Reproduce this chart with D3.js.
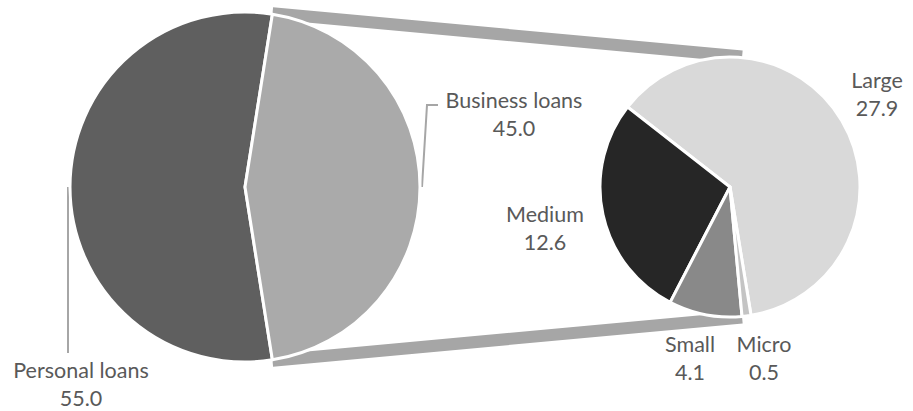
<!DOCTYPE html>
<html>
<head>
<meta charset="utf-8">
<script src="https://cdn.jsdelivr.net/npm/d3@7/dist/d3.min.js"></script>
<style>
  html, body { margin: 0; padding: 0; background: #ffffff; }
  svg { display: block; }
  text { font-family: Lato, "Open Sans", sans-serif; fill: #595959; }
</style>
</head>
<body>
<svg id="chart" width="913" height="411"></svg>
<script>
// Loan portfolio split, with business loans broken down by firm size
const mainCategories = ["Personal loans", "Business loans"];
const mainValues = [55.0, 45.0];
const mainColors = ["#5f5f5f", "#aaaaaa"];

const subCategories = ["Large", "Medium", "Small", "Micro"];
const subValues = [27.9, 12.6, 4.1, 0.5];
const subColors = ["#d9d9d9", "#262626", "#898989", "#c4c4c4"];

const W = 913, H = 411;
const deg = Math.PI / 180;

// Geometry of the two pies
const main = { cx: 245, cy: 187, r: 175 };
const sub = { cx: 730, cy: 187, r: 130 };

// Label anchors (text centre x, first baseline y)
const labelLayout = {
  "Personal loans": [81, 378],
  "Business loans": [514, 108],
  "Large": [877, 88],
  "Medium": [545, 222],
  "Small": [690, 352],
  "Micro": [764, 352]
};

const svg = d3.select("#chart");

// Main pie: business slice centred on 3 o'clock
const mainPie = d3.pie().sort(null).value(d => d)
  .startAngle(171 * deg).endAngle(531 * deg);
const mainArcs = mainPie(mainValues);

// Secondary pie runs counter-clockwise from just left of 6 o'clock
const subPie = d3.pie().sort(null).value(d => d)
  .startAngle(530.7 * deg).endAngle(170.7 * deg);
const subArcs = subPie(subValues);

const pt = (p, a, r) => [p.cx + r * Math.sin(a), p.cy - r * Math.cos(a)];

// Series lines joining the business slice to the secondary pie
const biz = mainArcs[1];
const a1 = Math.min(biz.startAngle, biz.endAngle);
const a2 = Math.max(biz.startAngle, biz.endAngle);
const tipAngle = 5.3 * deg;
const connectors = [
  [pt(main, a1, main.r + 1), pt(sub, tipAngle, sub.r + 1)],
  [pt(main, a2, main.r + 1), pt(sub, Math.PI - tipAngle, sub.r + 1)]
];
svg.append("g").selectAll("line").data(connectors).join("line")
  .attr("x1", d => d[0][0]).attr("y1", d => d[0][1])
  .attr("x2", d => d[1][0]).attr("y2", d => d[1][1])
  .attr("stroke", "#a6a6a6").attr("stroke-width", 12)
  .attr("stroke-linecap", "butt");

// Leader lines for the main pie labels
const leader = d3.line();
svg.append("path")
  .attr("d", leader([pt(main, 270 * deg, main.r + 2), [68, 353]]))
  .attr("fill", "none").attr("stroke", "#a6a6a6").attr("stroke-width", 2);
svg.append("path")
  .attr("d", leader([pt(main, 90 * deg, main.r + 2), [427, 105], [438, 105]]))
  .attr("fill", "none").attr("stroke", "#a6a6a6").attr("stroke-width", 2);

// Main pie slices
const mainArc = d3.arc().innerRadius(0).outerRadius(main.r);
svg.append("g").attr("transform", `translate(${main.cx},${main.cy})`)
  .selectAll("path").data(mainArcs).join("path")
  .attr("d", mainArc)
  .attr("fill", (d, i) => mainColors[i])
  .attr("stroke", "#ffffff").attr("stroke-width", 3).attr("stroke-linejoin", "round");

// Secondary pie slices
const subArc = d3.arc().innerRadius(0).outerRadius(sub.r);
svg.append("g").attr("transform", `translate(${sub.cx},${sub.cy})`)
  .selectAll("path").data(subArcs).join("path")
  .attr("d", subArc)
  .attr("fill", (d, i) => subColors[i])
  .attr("stroke", "#ffffff").attr("stroke-width", 3).attr("stroke-linejoin", "round");

// Category and value labels
const fmt = d3.format(".1f");
const labels = mainCategories.map((c, i) => ({ name: c, value: mainValues[i] }))
  .concat(subCategories.map((c, i) => ({ name: c, value: subValues[i] })));
const lg = svg.append("g").attr("font-size", 21.5).attr("text-anchor", "middle");
labels.forEach(d => {
  const [x, y] = labelLayout[d.name];
  const t = lg.append("text").attr("x", x).attr("y", y);
  t.append("tspan").attr("x", x).text(d.name);
  t.append("tspan").attr("x", x).attr("dy", 28).text(fmt(d.value));
});
</script>
</body>
</html>
